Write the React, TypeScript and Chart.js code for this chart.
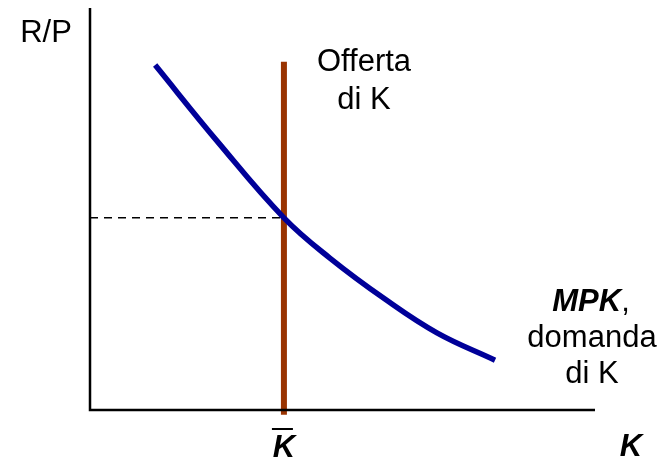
import React, { useEffect, useRef } from "react";
import { Chart, registerables } from "chart.js";

Chart.register(...registerables);

// Capital market: MPK (demand for K) against the fixed supply of K
const mpkK = [12.9, 25.3, 38.4, 47.5, 58.4, 68.7, 80.2];
const mpkR = [85.8, 66.7, 47.8, 37.8, 27.6, 19.2, 12.4];
const kBar = 38.4;
const supplyR = [-1.2, 86.6];
const rEquilibrium = 47.8;

const FONT = '"Liberation Sans", Arial, sans-serif';

const labelsPlugin = {
  id: "economicsLabels",
  afterDatasetsDraw(chart: any) {
    const { ctx, chartArea, scales } = chart;
    const xs = scales.x;
    ctx.save();

    // axes
    ctx.strokeStyle = "#000";
    ctx.lineWidth = 2.5;
    ctx.beginPath();
    ctx.moveTo(chartArea.left, chartArea.top);
    ctx.lineTo(chartArea.left, chartArea.bottom);
    ctx.lineTo(chartArea.right, chartArea.bottom);
    ctx.stroke();

    ctx.fillStyle = "#000";
    ctx.textAlign = "center";
    ctx.textBaseline = "middle";

    const regular = `31px ${FONT}`;
    const boldItalic = `italic bold 31px ${FONT}`;

    ctx.font = regular;
    ctx.fillText("R/P", 46, 33);
    ctx.fillText("Offerta", 364, 62);
    ctx.fillText("di K", 364, 100);
    ctx.fillText("domanda", 592, 338);
    ctx.fillText("di K", 592, 374);

    // "MPK," with the symbol in bold italic
    ctx.font = boldItalic;
    const wM = ctx.measureText("MPK").width;
    ctx.font = regular;
    const wC = ctx.measureText(",").width;
    const startX = 591 - (wM + wC) / 2;
    ctx.textAlign = "left";
    ctx.font = boldItalic;
    ctx.fillText("MPK", startX, 302);
    ctx.font = regular;
    ctx.fillText(",", startX + wM, 302);

    // axis label K and K-bar
    ctx.textAlign = "center";
    ctx.font = boldItalic;
    ctx.fillText("K", 631, 447);
    const kx = xs.getPixelForValue(kBar);
    ctx.fillText("K", kx, 448);
    ctx.lineWidth = 2;
    ctx.beginPath();
    ctx.moveTo(kx - 12, 429);
    ctx.lineTo(kx + 9, 429);
    ctx.stroke();

    ctx.restore();
  },
};

export default function App() {
  const ref = useRef<HTMLCanvasElement>(null);

  useEffect(() => {
    document.body.style.margin = "0";
    const chart = new Chart(ref.current!, {
      type: "line",
      data: {
        datasets: [
          {
            label: "MPK",
            data: mpkK.map((k, i) => ({ x: k, y: mpkR[i] })),
            borderColor: "#000099",
            borderWidth: 5.5,
            pointRadius: 0,
            tension: 0.4,
            order: 0,
          },
          {
            label: "Offerta di K",
            data: supplyR.map((r) => ({ x: kBar, y: r })),
            borderColor: "#993300",
            borderWidth: 6,
            pointRadius: 0,
            borderCapStyle: "butt",
            clip: false,
            order: 1,
          },
          {
            label: "R/P",
            data: [
              { x: 0, y: rEquilibrium },
              { x: kBar, y: rEquilibrium },
            ],
            borderColor: "#000",
            borderWidth: 1.5,
            borderDash: [8, 6],
            pointRadius: 0,
            order: 2,
          },
        ],
      },
      options: {
        animation: false,
        responsive: false,
        layout: { padding: { left: 90, right: 69, top: 8, bottom: 52 } },
        plugins: { legend: { display: false }, tooltip: { enabled: false } },
        scales: {
          x: { type: "linear", min: 0, max: 100, display: false },
          y: { type: "linear", min: 0, max: 100, display: false },
        },
      },
      plugins: [labelsPlugin],
    });
    return () => chart.destroy();
  }, []);

  return (
    <div style={{ position: "fixed", left: 0, top: 0, width: 664, height: 462, background: "#fff" }}>
      <canvas ref={ref} width={664} height={462} />
    </div>
  );
}
